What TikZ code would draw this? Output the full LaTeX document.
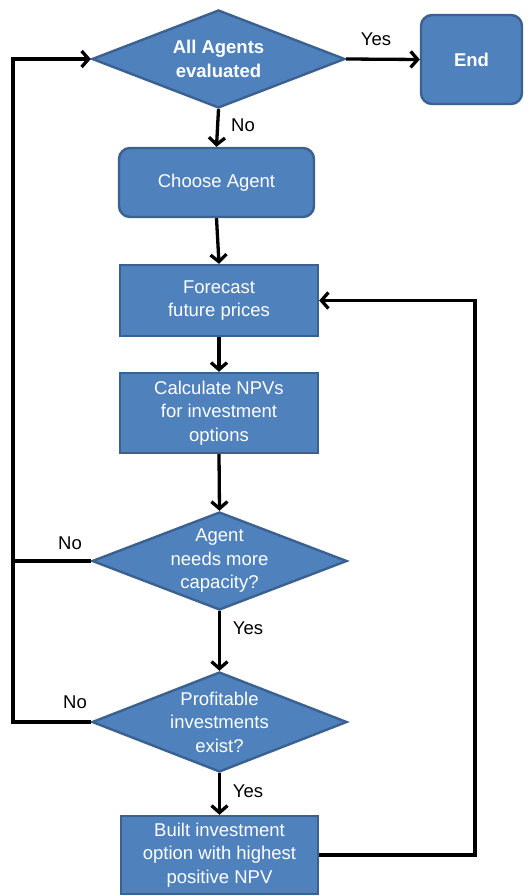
\documentclass[tikz,border=0pt]{standalone}
\usepackage{fontspec}
\setmainfont{Liberation Sans}
\usetikzlibrary{shapes.geometric,arrows.meta}
\definecolor{boxfill}{HTML}{4F81BD}
\definecolor{boxdraw}{HTML}{3A6190}
\begin{document}
\begin{tikzpicture}[x=1pt,y=1pt,
  every node/.style={font=\fontsize{18.5}{23.5}\selectfont},
  procbox/.style={rectangle,draw=boxdraw,fill=boxfill,line width=2.4pt,text=white,align=center,inner sep=0pt},
  roundbox/.style={procbox,rounded corners=11pt},
  decbox/.style={diamond,draw=boxdraw,fill=boxfill,line width=2.4pt,inner sep=0pt},
  dectext/.style={text=white,align=center,inner sep=0pt},
  lab/.style={text=black,inner sep=0pt},
  conn/.style={line width=3.3pt,line cap=butt,-{Straight Barb[length=7pt,width=16pt,line width=3.3pt]}},
  plain/.style={line width=3.3pt}]
\useasboundingbox (0,0) rectangle (528,-896);
% nodes
\node[decbox,minimum width=253pt,minimum height=98pt] (d1) at (218.5,-59) {};
\node[dectext] (d1t) at (d1.center) {\bfseries All Agents\\\bfseries evaluated};
\node[roundbox,minimum width=101pt,minimum height=89pt] (end) at (471.5,-59.5) {\bfseries End};
\node[roundbox,minimum width=195pt,minimum height=69pt] (choose) at (216.5,-182.5) {Choose Agent};
\node[procbox,minimum width=198pt,minimum height=71pt] (fore) at (219,-300.5) {Forecast\\future prices};
\node[procbox,minimum width=198pt,minimum height=80pt] (calc) at (219,-413) {Calculate NPVs\\for investment\\options};
\node[decbox,minimum width=255pt,minimum height=98pt] (d2) at (219.5,-561) {};
\node[dectext] (d2t) at (d2.center) {Agent\\needs more\\capacity?};
\node[decbox,minimum width=255pt,minimum height=100pt] (d3) at (219.5,-722) {};
\node[dectext] (d3t) at (d3.center) {Profitable\\investments\\exist?};
\node[procbox,minimum width=197pt,minimum height=78pt] (built) at (219.5,-855) {Built investment\\option with highest\\positive NPV};
% helper coordinates
\coordinate (lt) at (13,-59);
\coordinate (lm) at (13,-561);
\coordinate (lb) at (13,-722);
\coordinate (rb) at (475,-855);
\coordinate (rt) at (475,-300.5);
% connectors
\draw[conn] (d1.east) -- (end.west);
\draw[conn] (d1.south) -- (choose.north);
\draw[conn] (choose.south) -- (fore.north);
\draw[conn] (fore.south) -- (calc.north);
\draw[conn] (calc.south) -- (d2.north);
\draw[conn] (d2.south) -- (d3.north);
\draw[conn] (d3.south) -- (built.north);
\draw[conn] (d3.west) -- (lb) -- (lt) -- (d1.west);
\draw[plain] (d2.west) -- (lm);
\draw[conn] (built.east) -- (rb) -- (rt) -- (fore.east);
% labels
\node[lab] (ly1) at (376,-39) {Yes};
\node[lab] (ln1) at (243,-125) {No};
\node[lab] (ln2) at (70,-543) {No};
\node[lab] (ly2) at (248,-628) {Yes};
\node[lab] (ln3) at (75,-702) {No};
\node[lab] (ly3) at (248,-791) {Yes};
\end{tikzpicture}
\end{document}
